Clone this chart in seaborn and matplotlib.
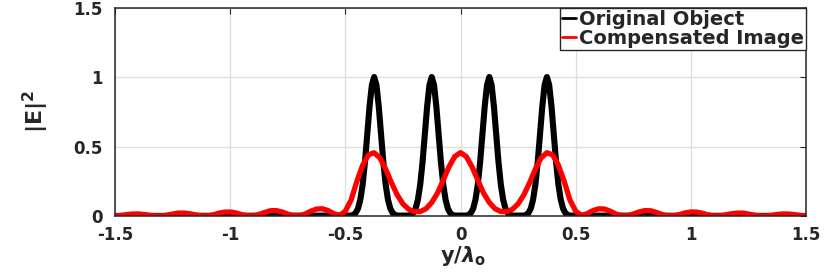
import numpy as np
import pandas as pd
import seaborn as sns
import matplotlib
matplotlib.use('Agg')
import matplotlib.pyplot as plt

# tick positions / labels
x_ticks = [-1.5, -1, -0.5, 0, 0.5, 1, 1.5]
x_tick_labels = ['-1.5', '-1', '-0.5', '0', '0.5', '1', '1.5']
y_ticks = [0, 0.5, 1, 1.5]
y_tick_labels = ['0', '0.5', '1', '1.5']

# original object: four narrow peaks
obj_y_pos = [-1.5,
             -0.475, -0.465, -0.455, -0.445, -0.435, -0.425, -0.415, -0.405, -0.395, -0.385, -0.375,
             -0.365, -0.355, -0.345, -0.335, -0.325, -0.315, -0.305, -0.295, -0.285, -0.275,
             -0.225, -0.215, -0.205, -0.195, -0.185, -0.175, -0.165, -0.155, -0.145, -0.135, -0.125,
             -0.115, -0.105, -0.095, -0.085, -0.075, -0.065, -0.055, -0.045, -0.035, -0.025,
             0.025, 0.035, 0.045, 0.055, 0.065, 0.075, 0.085, 0.095, 0.105, 0.115, 0.125,
             0.135, 0.145, 0.155, 0.165, 0.175, 0.185, 0.195, 0.205, 0.215, 0.225,
             0.275, 0.285, 0.295, 0.305, 0.315, 0.325, 0.335, 0.345, 0.355, 0.365, 0.375,
             0.385, 0.395, 0.405, 0.415, 0.425, 0.435, 0.445, 0.455, 0.465, 0.475,
             1.5]
obj_intensity = [0.0,
                 0.003, 0.008, 0.022, 0.054, 0.118, 0.226, 0.386, 0.586, 0.788, 0.942, 1.0,
                 0.942, 0.788, 0.586, 0.386, 0.226, 0.118, 0.054, 0.022, 0.008, 0.003,
                 0.003, 0.008, 0.022, 0.054, 0.118, 0.226, 0.386, 0.586, 0.788, 0.942, 1.0,
                 0.942, 0.788, 0.586, 0.386, 0.226, 0.118, 0.054, 0.022, 0.008, 0.003,
                 0.003, 0.008, 0.022, 0.054, 0.118, 0.226, 0.386, 0.586, 0.788, 0.942, 1.0,
                 0.942, 0.788, 0.586, 0.386, 0.226, 0.118, 0.054, 0.022, 0.008, 0.003,
                 0.003, 0.008, 0.022, 0.054, 0.118, 0.226, 0.386, 0.586, 0.788, 0.942, 1.0,
                 0.942, 0.788, 0.586, 0.386, 0.226, 0.118, 0.054, 0.022, 0.008, 0.003,
                 0.0]

# compensated image (step 0.025)
img_y_pos = [-1.5, -1.475, -1.45, -1.425, -1.4, -1.375, -1.35, -1.325, -1.3, -1.275,
             -1.25, -1.225, -1.2, -1.175, -1.15, -1.125, -1.1, -1.075, -1.05, -1.025,
             -1.0, -0.975, -0.95, -0.925, -0.9, -0.875, -0.85, -0.825, -0.8, -0.775,
             -0.75, -0.725, -0.7, -0.675, -0.65, -0.625, -0.6, -0.575, -0.55, -0.525,
             -0.5, -0.475, -0.45, -0.425, -0.4, -0.375, -0.35, -0.325, -0.3, -0.275,
             -0.25, -0.225, -0.2, -0.175, -0.15, -0.125, -0.1, -0.075, -0.05, -0.025,
             0.0,
             0.025, 0.05, 0.075, 0.1, 0.125, 0.15, 0.175, 0.2, 0.225, 0.25,
             0.275, 0.3, 0.325, 0.35, 0.375, 0.4, 0.425, 0.45, 0.475, 0.5,
             0.525, 0.55, 0.575, 0.6, 0.625, 0.65, 0.675, 0.7, 0.725, 0.75,
             0.775, 0.8, 0.825, 0.85, 0.875, 0.9, 0.925, 0.95, 0.975, 1.0,
             1.025, 1.05, 1.075, 1.1, 1.125, 1.15, 1.175, 1.2, 1.225, 1.25,
             1.275, 1.3, 1.325, 1.35, 1.375, 1.4, 1.425, 1.45, 1.475, 1.5]
img_intensity = [0.001, 0.004, 0.010, 0.014, 0.015, 0.011, 0.005, 0.001, 0.001, 0.006,
                 0.014, 0.021, 0.021, 0.016, 0.008, 0.001, 0.001, 0.008, 0.020, 0.028,
                 0.029, 0.022, 0.010, 0.002, 0.001, 0.011, 0.026, 0.038, 0.039, 0.029,
                 0.014, 0.002, 0.001, 0.014, 0.035, 0.050, 0.052, 0.039, 0.017, 0.003,
                 0.035, 0.115, 0.250, 0.365, 0.440, 0.455, 0.418, 0.338, 0.240, 0.152,
                 0.087, 0.048, 0.031, 0.032, 0.052, 0.097, 0.165, 0.258, 0.354, 0.428,
                 0.456,
                 0.428, 0.354, 0.258, 0.165, 0.097, 0.052, 0.032, 0.031, 0.048, 0.087,
                 0.152, 0.240, 0.338, 0.418, 0.455, 0.440, 0.365, 0.250, 0.115, 0.035,
                 0.003, 0.017, 0.039, 0.052, 0.050, 0.035, 0.014, 0.001, 0.002, 0.014,
                 0.029, 0.039, 0.038, 0.026, 0.011, 0.001, 0.002, 0.010, 0.022, 0.029,
                 0.028, 0.020, 0.008, 0.001, 0.001, 0.008, 0.016, 0.021, 0.021, 0.014,
                 0.006, 0.001, 0.001, 0.005, 0.011, 0.015, 0.014, 0.010, 0.004, 0.001]

df_obj = pd.DataFrame({'y': obj_y_pos, 'I': obj_intensity})
df_img = pd.DataFrame({'y': img_y_pos, 'I': img_intensity})

sns.set_style('whitegrid')
plt.rcParams['font.family'] = ['DejaVu Sans']
plt.rcParams['font.weight'] = 'bold'
plt.rcParams['axes.unicode_minus'] = False
plt.rcParams['mathtext.fontset'] = 'dejavusans'

fig = plt.figure(figsize=(8.3, 2.73), dpi=100)
ax = fig.add_axes([0.1386, 0.2088, 0.8325, 0.7637])

sns.lineplot(data=df_obj, x='y', y='I', ax=ax, color='black', lw=4.4,
             estimator=None, label='Original Object')
sns.lineplot(data=df_img, x='y', y='I', ax=ax, color='#ff0000', lw=3.8,
             estimator=None, label='Compensated Image')

ax.set_xlim(-1.5, 1.5)
ax.set_ylim(0, 1.5)
ax.set_xticks(x_ticks)
ax.set_xticklabels(x_tick_labels, fontsize=12, fontweight='bold')
ax.set_yticks(y_ticks)
ax.set_yticklabels(y_tick_labels, fontsize=12, fontweight='bold')
ax.tick_params(direction='in', length=4, width=0.8, color='#262626',
               top=True, right=True, pad=7)
ax.tick_params(axis='y', pad=9)

ax.grid(True, color='#dedede', lw=0.9)
for sp in ax.spines.values():
    sp.set_visible(True)
    sp.set_color('#262626')
    sp.set_linewidth(1.1)

ax.set_xlabel(r'$\mathbf{y}/\lambda_{\mathbf{o}}$', fontsize=15)
ax.xaxis.set_label_coords(0.504, -0.135)
ax.set_ylabel(r'$|\mathbf{E}|^{\mathbf{2}}$', fontsize=16)
ax.yaxis.set_label_coords(-0.092, 0.5)

leg = ax.legend(loc='upper right', bbox_to_anchor=(1.0, 1.0), borderaxespad=0,
                fontsize=14, handlelength=0.7, handletextpad=0.15,
                labelspacing=0.0, borderpad=0.12, fancybox=False,
                framealpha=1, edgecolor='#262626')
leg.get_frame().set_linewidth(1.0)
for line in leg.get_lines():
    line.set_linewidth(2)
for t in leg.get_texts():
    t.set_fontweight('bold')

fig.savefig('out.png', dpi=100)
